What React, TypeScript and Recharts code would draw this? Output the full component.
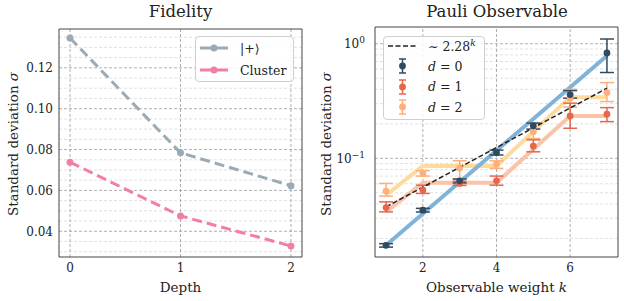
import React from 'react';
import { ComposedChart, LineChart, Line, XAxis, YAxis, ReferenceLine, ErrorBar, Legend } from 'recharts';

const FONT = "'DejaVu Serif', serif";
const INK = '#444';

// ---- Fidelity panel ----
const depths = [0, 1, 2];
const plusSigma = [0.1346, 0.0784, 0.0623];
const clusterSigma = [0.0738, 0.0475, 0.0328];
const depthTicks = [0, 1, 2];
const depthMinor = [0.2, 0.4, 0.6, 0.8, 1.2, 1.4, 1.6, 1.8];
const fidTicks = [0.04, 0.06, 0.08, 0.1, 0.12];
const fidMinor = [0.03, 0.035, 0.045, 0.05, 0.055, 0.065, 0.07, 0.075, 0.085, 0.09, 0.095, 0.105, 0.11, 0.115, 0.125, 0.13, 0.135];

// ---- Pauli panel ----
const weights = [1, 2, 3, 4, 5, 6, 7];
const sigmaD0 = [0.0174, 0.0353, 0.0637, 0.112, 0.192, 0.36, 0.83];
const lowD0 = [0.0168, 0.034, 0.061, 0.107, 0.18, 0.335, 0.561];
const highD0 = [0.018, 0.0366, 0.066, 0.118, 0.203, 0.39, 1.1];
const sigmaD1 = [0.0372, 0.0528, 0.0604, 0.0637, 0.128, 0.234, 0.243];
const lowD1 = [0.0341, 0.0494, 0.058, 0.0583, 0.114, 0.183, 0.209];
const highD1 = [0.0417, 0.0583, 0.063, 0.07, 0.145, 0.303, 0.277];
const sigmaD2 = [0.0518, 0.074, 0.0822, 0.0892, 0.171, 0.335, 0.375];
const lowD2 = [0.0468, 0.07, 0.0655, 0.0818, 0.149, 0.28, 0.313];
const highD2 = [0.0604, 0.078, 0.0953, 0.095, 0.202, 0.4, 0.458];
const stepD1 = [0.0341, 0.0612, 0.0612, 0.0612, 0.12, 0.234, 0.234];
const stepD2 = [0.0477, 0.0857, 0.0857, 0.0857, 0.171, 0.342, 0.342];
const fitWeights = [1, 7];
const fitExp = [0.0174, 0.785];
const fitPower = [0.0377, 0.409];
const weightTicks = [2, 4, 6];
const weightMinor = [1, 1.5, 2.5, 3, 3.5, 4.5, 5, 5.5, 6.5, 7];
const logTicks = [0.1, 1];
const logMinor = [0.02, 0.03, 0.04, 0.05, 0.06, 0.07, 0.08, 0.09, 0.2, 0.3, 0.4, 0.5, 0.6, 0.7, 0.8, 0.9];

const fidelityData = depths.map((d, i) => ({ depth: d, plus: plusSigma[i], cluster: clusterSigma[i] }));

const pick = (arr: number[], k: number) => {
  const i = fitWeights.indexOf(k);
  return i >= 0 ? arr[i] : null;
};
const pauliData = weights.map((k, i) => ({
  k,
  d0: sigmaD0[i], d0err: [sigmaD0[i] - lowD0[i], highD0[i] - sigmaD0[i]],
  d1: sigmaD1[i], d1err: [sigmaD1[i] - lowD1[i], highD1[i] - sigmaD1[i]],
  d2: sigmaD2[i], d2err: [sigmaD2[i] - lowD2[i], highD2[i] - sigmaD2[i]],
  step1: stepD1[i], step2: stepD2[i],
  exp: pick(fitExp, k), power: pick(fitPower, k),
}));

const C = {
  plus: '#9aabb6', cluster: '#f17fa5',
  d0: '#304b60', fit: '#80b3d8', d1: '#e5674c', d2: '#fdb07b',
  step1: '#f9c4a9', step2: '#fedb9d',
};

const tickStyle = { fontFamily: FONT, fontSize: 12, fill: '#222' };

// inward major/minor ticks on all four sides + the frame
function frame(xDom: number[], yDom: number[], xMaj: number[], xMin: number[], yMaj: number[], yMin: number[], yScale: any) {
  const line = { stroke: INK, strokeWidth: 1 };
  const tl = { stroke: INK, strokeWidth: 0.8 };
  const xs = ([['bottom', xMaj, 4], ['bottom', xMin, 2], ['top', xMaj, 4], ['top', xMin, 2]] as any[]).map(([o, t, s], i) => (
    <XAxis key={'fx' + i} xAxisId={'fx' + i} orientation={o} mirror height={1} type="number" domain={xDom}
      allowDataOverflow ticks={t} interval={0} tick={false} tickSize={s} axisLine={i % 2 === 0 ? line : false} tickLine={tl} />
  ));
  const ys = ([['left', yMaj, 4], ['left', yMin, 2], ['right', yMaj, 4], ['right', yMin, 2]] as any[]).map(([o, t, s], i) => (
    <YAxis key={'fy' + i} yAxisId={'fy' + i} orientation={o} mirror width={1} type="number" scale={yScale} domain={yDom}
      allowDataOverflow ticks={t} interval={0} tick={false} tickSize={s} axisLine={i % 2 === 0 ? line : false} tickLine={tl} />
  ));
  return [...xs, ...ys];
}

function grid(xMaj: number[], yMaj: number[], yMin: number[]) {
  return [
    ...yMin.map((v) => <ReferenceLine key={'gm' + v} y={v} stroke="#d4d4d4" strokeWidth={0.7} strokeDasharray="3 2" />),
    ...yMaj.map((v) => <ReferenceLine key={'gy' + v} y={v} stroke="#9a9a9a" strokeWidth={0.8} strokeDasharray="3 2" />),
    ...xMaj.map((v) => <ReferenceLine key={'gx' + v} x={v} stroke="#9a9a9a" strokeWidth={0.8} strokeDasharray="3 2" />),
  ];
}

const xTitle = (children: React.ReactNode) => (p: any) => (
  <text x={p.viewBox.x + p.viewBox.width / 2} y={p.viewBox.y + 35} textAnchor="middle" fontFamily={FONT} fontSize={13.5} fill="#222">{children}</text>
);
const yTitle = (cx: number, cy: number) => () => (
  <text x={cx} y={cy} transform={`rotate(-90, ${cx}, ${cy})`} textAnchor="middle" fontFamily={FONT} fontSize={13.5} fill="#222">
    Standard deviation <tspan fontStyle="italic">σ</tspan>
  </text>
);

const LogTick = (p: any) => {
  const exp = Math.round(Math.log10(p.payload.value));
  return (
    <text x={p.x} y={p.y} dy="0.35em" textAnchor="end" fontFamily={FONT} fontSize={12} fill="#222">
      10<tspan dy={-5} fontSize={9}>{exp === 0 ? '0' : '−' + Math.abs(exp)}</tspan>
    </text>
  );
};

const boxStyle: React.CSSProperties = {
  border: '1px solid #cfcfcf', borderRadius: 4, background: 'rgba(255,255,255,0.85)',
  boxSizing: 'border-box', fontFamily: FONT, fontSize: 12.5, color: '#222',
};

const fidelitySeries = [
  { key: 'plus', name: '|+⟩', color: C.plus },
  { key: 'cluster', name: 'Cluster', color: C.cluster },
];

const FidelityLegend = () => (
  <div style={{ ...boxStyle, width: 99, height: 46 }}>
    {fidelitySeries.map((s) => (
      <div key={s.key} style={{ display: 'flex', alignItems: 'center', height: 22 }}>
        <svg width={44} height={22} style={{ flex: 'none' }}>
          <line x1={4} x2={32} y1={11} y2={11} stroke={s.color} strokeWidth={3} />
          <circle cx={18} cy={11} r={3.5} fill={s.color} />
        </svg>
        <span style={{ fontFamily: FONT }}>{s.name}</span>
      </div>
    ))}
  </div>
);

const pauliSeries = [
  { key: 'd0', label: '0', color: C.d0 },
  { key: 'd1', label: '1', color: C.d1 },
  { key: 'd2', label: '2', color: C.d2 },
];

const PauliLegend = () => (
  <div style={{ ...boxStyle, width: 102, height: 84 }}>
    <div style={{ display: 'flex', alignItems: 'center', height: 19 }}>
      <svg width={44} height={19} style={{ flex: 'none' }}>
        <line x1={4} x2={33} y1={9} y2={9} stroke="#222" strokeWidth={1.5} strokeDasharray="5 2.5" />
      </svg>
      <span style={{ fontFamily: FONT }}>∼ 2.28<sup style={{ fontSize: 9, fontStyle: 'italic' }}>k</sup></span>
    </div>
    {pauliSeries.map((s) => (
      <div key={s.key} style={{ display: 'flex', alignItems: 'center', height: 20.5 }}>
        <svg width={44} height={20} style={{ flex: 'none' }}>
          <line x1={18.5} x2={18.5} y1={3} y2={17} stroke={s.color} strokeWidth={1.5} />
          <line x1={15} x2={22} y1={3} y2={3} stroke={s.color} strokeWidth={1.5} />
          <line x1={15} x2={22} y1={17} y2={17} stroke={s.color} strokeWidth={1.5} />
          <circle cx={18.5} cy={10} r={3.4} fill={s.color} />
        </svg>
        <span style={{ fontFamily: FONT }}><i>d</i> = {s.label}</span>
      </div>
    ))}
  </div>
);

const Title = ({ x, text }: { x: number; text: string }) => (
  <div style={{ position: 'absolute', left: x - 100, top: 1, width: 200, textAlign: 'center', fontFamily: FONT, fontSize: 16.5, color: '#222', lineHeight: '22px' }}>{text}</div>
);

const FidelityChart = () => (
  <LineChart width={312} height={301} data={fidelityData} margin={{ top: 29, right: 10, bottom: 0, left: 0 }}>
    <XAxis dataKey="depth" type="number" domain={[-0.1, 2.1]} allowDataOverflow ticks={depthTicks} interval={0}
      height={44} tickLine={false} axisLine={false} tickSize={0} tickMargin={6} tick={tickStyle} label={xTitle('Depth')} />
    <YAxis type="number" domain={[0.0274, 0.139]} allowDataOverflow ticks={fidTicks} interval={0} width={59}
      tickLine={false} axisLine={false} tickSize={0} tickMargin={6} tick={tickStyle}
      tickFormatter={(v: number) => v.toFixed(2)} label={yTitle(17.5, 144)} />
    {grid(depthTicks, fidTicks, fidMinor)}
    {frame([-0.1, 2.1], [0.0274, 0.139], depthTicks, depthMinor, fidTicks, fidMinor, 'linear')}
    {fidelitySeries.map((s) => (
      <Line key={s.key} dataKey={s.key} name={s.name} stroke={s.color} strokeWidth={3} strokeDasharray="10 5"
        dot={{ r: 3.5, fill: s.color, stroke: 'none' }} activeDot={false} isAnimationActive={false} />
    ))}
    <Legend content={<FidelityLegend />} layout="horizontal" verticalAlign="middle" align="center"
      wrapperStyle={{ left: 195, top: 36, width: 99, height: 46 }} />
  </LineChart>
);

const PauliChart = () => (
  <ComposedChart width={312} height={301} data={pauliData} margin={{ top: 27, right: 6, bottom: 0, left: 0 }}>
    <XAxis dataKey="k" type="number" domain={[0.7, 7.3]} allowDataOverflow ticks={weightTicks} interval={0}
      height={44} tickLine={false} axisLine={false} tickSize={0} tickMargin={6} tick={tickStyle}
      label={xTitle(<>Observable weight <tspan fontStyle="italic">k</tspan></>)} />
    <YAxis type="number" scale="log" domain={[0.01377, 1.4]} allowDataOverflow ticks={logTicks} interval={0} width={63}
      tickLine={false} axisLine={false} tickSize={0} tickMargin={10} tick={<LogTick />} label={yTitle(18.5, 144)} />
    {grid(weightTicks, logTicks, logMinor)}
    {frame([0.7, 7.3], [0.01377, 1.4], weightTicks, weightMinor, logTicks, logMinor, 'log')}
    <Line dataKey="step2" stroke={C.step2} strokeWidth={4} dot={false} activeDot={false} isAnimationActive={false} />
    <Line dataKey="step1" stroke={C.step1} strokeWidth={4} dot={false} activeDot={false} isAnimationActive={false} />
    <Line dataKey="exp" stroke={C.fit} strokeWidth={4} connectNulls dot={false} activeDot={false} isAnimationActive={false} />
    {[...pauliSeries].reverse().map((s) => (
      <Line key={s.key} dataKey={s.key} stroke="none" dot={{ r: 3.4, fill: s.color, stroke: 'none' }}
        activeDot={false} isAnimationActive={false}>
        <ErrorBar dataKey={s.key + 'err'} direction="y" stroke={s.color} strokeWidth={1.5} width={7} />
      </Line>
    ))}
    <Line dataKey="power" stroke="#222" strokeWidth={1.5} strokeDasharray="5 2.5" connectNulls dot={false}
      activeDot={false} isAnimationActive={false} />
    <Legend content={<PauliLegend />} layout="horizontal" verticalAlign="middle" align="center"
      wrapperStyle={{ left: 71, top: 36, width: 102, height: 84 }} />
  </ComposedChart>
);

export default function App() {
  return (
    <div style={{ position: 'absolute', left: 0, top: 0, width: 624, height: 301, background: '#fff' }}>
      <div style={{ position: 'absolute', left: 0, top: 0 }}><FidelityChart /></div>
      <div style={{ position: 'absolute', left: 312, top: 0 }}><PauliChart /></div>
      <Title x={180.5} text="Fidelity" />
      <Title x={497} text="Pauli Observable" />
    </div>
  );
}
